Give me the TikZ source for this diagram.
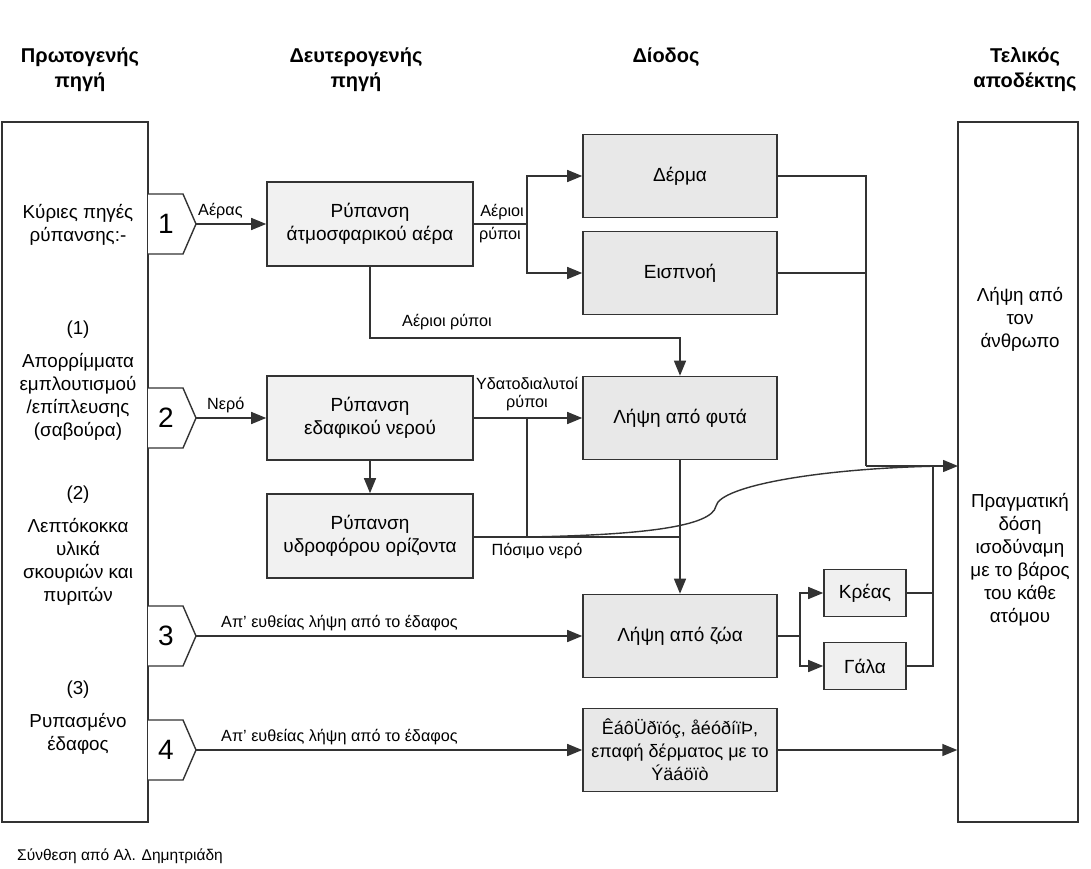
\documentclass[tikz,border=0pt]{standalone}
\usepackage{fontspec}
\setmainfont{Liberation Sans}
\usetikzlibrary{arrows.meta}
\begin{document}
\begin{tikzpicture}[x=1pt,y=-1pt,
  ln/.style={draw=black!80, line width=1.4pt},
  arr/.style={ln, -{Triangle[length=15pt,width=12pt]}},
  body/.style={font=\fontsize{18.8}{23}\selectfont, align=center, inner sep=0pt},
  lbl/.style={font=\fontsize{16.2}{19}\selectfont, align=center, inner sep=0pt},
  head/.style={font=\bfseries\fontsize{20}{25}\selectfont, align=center, inner sep=0pt},
  bigbox/.style={draw=black!80, line width=1.4pt, fill=white, inner sep=0pt},
  sbox/.style={draw=black!80, line width=1.6pt, fill=gray!11, minimum width=206pt, minimum height=84pt, inner sep=0pt, align=center, font=\fontsize{19}{23}\selectfont},
  dbox/.style={sbox, fill=gray!18, minimum width=194pt, minimum height=83pt},
  mbox/.style={sbox, fill=gray!12, minimum width=82pt, minimum height=47pt},
  tab/.style={draw=black!80, line width=1.4pt, fill=white},
  num/.style={font=\fontsize{28}{28}\selectfont, inner sep=0pt}
]
\useasboundingbox (0,0) rectangle (1091,869);

% headers
\node[head] (h1) at (80,70) {Πρωτογενής\\πηγή};
\node[head] (h2) at (356,70) {Δευτερογενής\\πηγή};
\node[head] (h3) at (666,57) {Δίοδος};
\node[head] (h4) at (1025,70) {Τελικός\\αποδέκτης};

% main boxes
\node[bigbox, minimum width=146pt, minimum height=700pt] (src) at (75,472) {};
\node[bigbox, minimum width=120pt, minimum height=700pt] (rcv) at (1018,472) {};

% left texts
\node[body] (l1) at (78,225) {Κύριες πηγές\\ρύπανσης:-};
\node[body] (l2) at (78,330) {(1)};
\node[body] (l3) at (78,397) {Απορρίμματα\\εμπλουτισμού\\/επίπλευσης\\(σαβούρα)};
\node[body] (l4) at (78,495) {(2)};
\node[body] (l5) at (78,562) {Λεπτόκοκκα\\υλικά\\σκουριών και\\πυριτών};
\node[body] (l6) at (78,690) {(3)};
\node[body] (l7) at (78,734) {Ρυπασμένο\\έδαφος};

% right texts
\node[body] (r1) at (1020,319) {Λήψη από\\τον\\άνθρωπο};
\node[body] (r2) at (1020,560) {Πραγματική\\δόση\\ισοδύναμη\\με το βάρος\\του κάθε\\ατόμου};

% tabs
\foreach \i/\y in {1/224,2/418,3/636,4/750}{
  \draw[tab] (148,\y-30) -- (183,\y-30) -- (196,\y) -- (183,\y+30) -- (148,\y+30);
  \coordinate (tip\i) at (196,\y);
  \node[num] (n\i) at (166,\y) {\i};
}

% secondary boxes
\node[sbox] (air) at (370,224) {Ρύπανση\\άτμοσφαρικού αέρα};
\node[sbox] (soilw) at (370,418) {Ρύπανση\\εδαφικού νερού};
\node[sbox] (aq) at (370,536) {Ρύπανση\\υδροφόρου ορίζοντα};

% pathway boxes
\node[dbox] (skin) at (680,176) {Δέρμα};
\node[dbox] (inh) at (680,273) {Εισπνοή};
\node[dbox] (plant) at (680,418) {Λήψη από φυτά};
\node[dbox] (anim) at (680,636) {Λήψη από ζώα};
\node[dbox, font=\fontsize{18}{23}\selectfont] (ing) at (680,750) {ÊáôÜðïóç, åéóðíïÞ,\\επαφή δέρματος με το\\Ýäáöïò};
\node[mbox] (meat) at (865,593) {Κρέας};
\node[mbox] (milk) at (865,666) {Γάλα};

% connectors
\draw[arr] (tip1) -- (air.west);
\node[lbl, anchor=south west] (la) at (198,219) {Αέρας};
\draw[arr] (tip2) -- (soilw.west);
\node[lbl, anchor=south west] (ln2) at (207,413) {Νερό};
\draw[arr] (tip3) -- (anim.west);
\node[lbl, anchor=south west] (ld3) at (221,631) {Απ’ ευθείας λήψη από το έδαφος};
\draw[arr] (tip4) -- (ing.west);
\node[lbl, anchor=south west] (ld4) at (221,745) {Απ’ ευθείας λήψη από το έδαφος};

\coordinate (sp1) at (527,224);
\draw[ln] (air.east) -- (sp1);
\draw[arr] (sp1) |- (skin.west);
\draw[arr] (sp1) |- (inh.west);
\node[lbl] (lg1) at (502,212) {Αέριοι};
\node[lbl] (lg2) at (500,235) {ρύποι};

\draw[arr] (air.south) |- (680,338) -- (plant.north);
\node[lbl] (lg3) at (447,322) {Αέριοι ρύποι};

\draw[arr] (soilw.east) -- (plant.west);
\node[lbl] (lw1) at (527,383) {Υδατοδιαλυτοί};
\node[lbl] (lw2) at (527,403) {ρύποι};
\draw[arr] (soilw.south) -- (aq.north);

\coordinate (j1) at (527,537);
\draw[ln] (527,418) -- (j1);
\draw[ln] (aq.east |- j1) -- (680,537);
\draw[arr] (plant.south) -- (anim.north);
\node[lbl] (lp) at (537,551) {Πόσιμο νερό};

\coordinate (in1) at (958,466);
\draw[ln] (j1) .. controls (640,535) and (712,527) .. (716,506) .. controls (720,486) and (820,468) .. (944,466);
\draw[ln] (skin.east) -| (866,466);
\draw[ln] (inh.east) -- (866,273);
\draw[arr] (866,466) -- (in1);
\draw[ln] (meat.east) -| (933,466);
\draw[ln] (milk.east) -| (933,593);

\coordinate (sp2) at (800,636);
\draw[ln] (anim.east) -- (sp2);
\draw[arr] (sp2) |- (meat.west);
\draw[arr] (sp2) |- (milk.west);

\draw[arr] (ing.east) -- (ing.east -| rcv.west);

% footer
\node[font=\fontsize{15.5}{18}\selectfont, anchor=west, inner sep=0pt] (foot) at (17,856) {Σύνθεση από Αλ. Δημητριάδη};
\end{tikzpicture}
\end{document}
